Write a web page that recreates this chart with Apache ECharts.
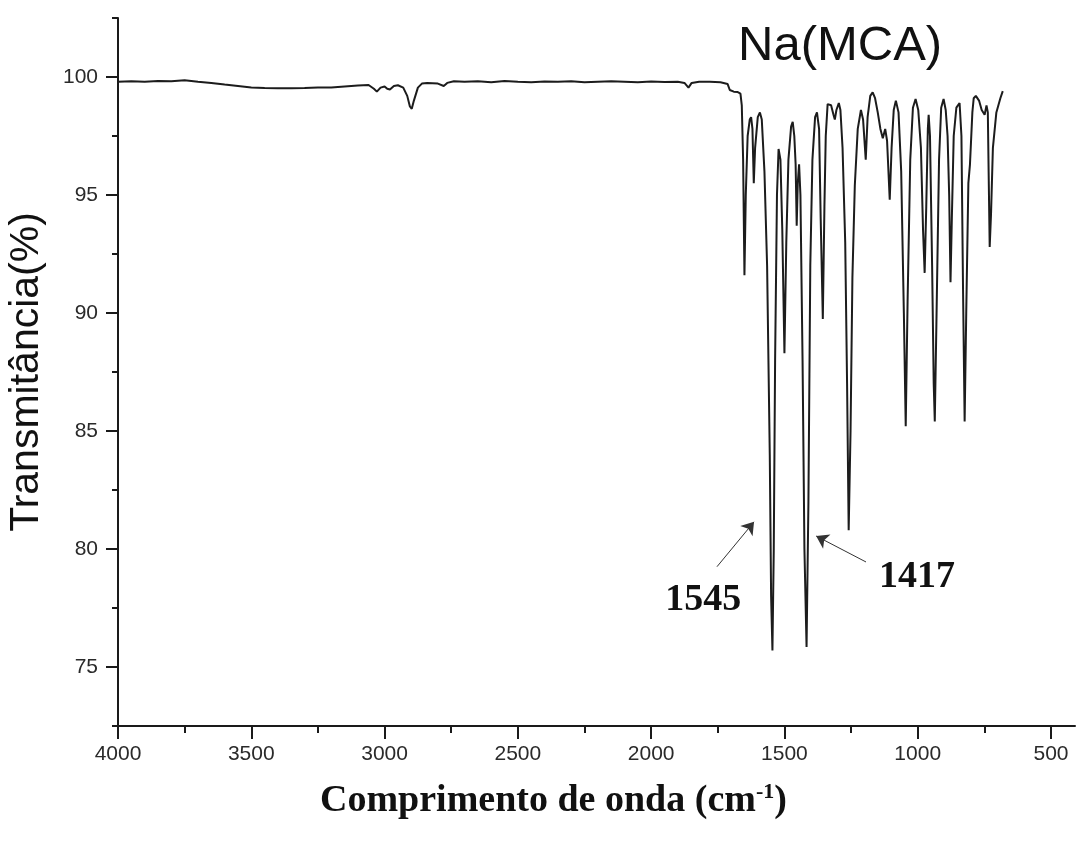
<!DOCTYPE html>
<html>
<head>
<meta charset="utf-8">
<script src="https://cdn.jsdelivr.net/npm/echarts@6/dist/echarts.min.js"></script>
<style>
  html, body { margin: 0; padding: 0; background: #fff; }
  #chart { width: 1078px; height: 843px; }
</style>
</head>
<body>
<div id="chart"></div>
<script>
// ---- Data ----
const wavenumbers = [
  4000, 3950, 3900, 3850, 3800, 3750, 3700, 3650, 3600, 3550, 3500, 3450, 3400, 3350, 3300, 3250, 3200, 3150, 3100, 3060,
  3040, 3029, 3015, 3000, 2990, 2980, 2965, 2950, 2930, 2915, 2905, 2898, 2890, 2875, 2860, 2840, 2800, 2778, 2765, 2740,
  2700, 2650, 2600, 2550, 2500, 2450, 2400, 2350, 2300, 2250, 2200, 2150, 2100, 2050, 2000, 1950, 1900, 1875, 1860, 1848,
  1820, 1780, 1740, 1713, 1705, 1690, 1675, 1665, 1660, 1655, 1650, 1645, 1638, 1630, 1625, 1620, 1615, 1610, 1600, 1592,
  1585, 1575, 1565, 1555, 1550, 1545, 1540, 1535, 1528, 1522, 1515, 1508, 1500, 1493, 1485, 1475, 1469, 1463, 1458, 1454,
  1450, 1445, 1440, 1432, 1425, 1417, 1410, 1403, 1395, 1385, 1378, 1370, 1364, 1356, 1350, 1345, 1338, 1325, 1316, 1311,
  1305, 1296, 1290, 1282, 1272, 1265, 1259, 1252, 1245, 1236, 1225, 1213, 1205, 1195, 1188, 1178, 1169, 1160, 1150, 1140,
  1131, 1122, 1115, 1105, 1098, 1090, 1082, 1072, 1062, 1052, 1045, 1038, 1028, 1018, 1008, 998, 988, 980, 974, 968,
  962, 959, 954, 946, 940, 936, 930, 920, 912, 903, 895, 888, 882, 877, 872, 865, 855, 843, 836, 830,
  824, 818, 810, 804, 795, 790, 782, 770, 760, 749, 742, 737, 734, 730, 725, 718, 705, 690, 681
];
const transmittance = [
  99.80, 99.82, 99.80, 99.83, 99.82, 99.86, 99.80, 99.75, 99.68, 99.62, 99.56, 99.53, 99.52, 99.52, 99.53, 99.55, 99.56, 99.60, 99.64, 99.66,
  99.50, 99.38, 99.55, 99.60, 99.50, 99.47, 99.62, 99.65, 99.55, 99.20, 98.75, 98.65, 99.00, 99.55, 99.72, 99.75, 99.72, 99.62, 99.75, 99.82,
  99.80, 99.82, 99.78, 99.83, 99.80, 99.78, 99.81, 99.80, 99.82, 99.78, 99.80, 99.82, 99.80, 99.78, 99.81, 99.79, 99.80, 99.75, 99.55, 99.75,
  99.80, 99.80, 99.78, 99.70, 99.45, 99.38, 99.36, 99.30, 98.80, 96.50, 91.60, 95.00, 97.50, 98.20, 98.30, 97.80, 95.50, 97.00, 98.30, 98.50,
  98.20, 96.00, 92.00, 84.00, 78.00, 75.70, 80.00, 88.00, 95.00, 96.95, 96.50, 93.50, 88.30, 93.00, 96.50, 97.90, 98.10, 97.50, 96.30, 93.70,
  95.50, 96.30, 95.00, 88.00, 80.00, 75.85, 82.00, 92.00, 96.50, 98.30, 98.50, 97.80, 94.00, 89.75, 94.50, 97.50, 98.85, 98.80, 98.40, 98.20,
  98.60, 98.90, 98.60, 97.00, 93.00, 87.00, 80.80, 85.00, 91.50, 95.40, 97.80, 98.60, 98.20, 96.50, 98.30, 99.20, 99.35, 99.10, 98.50, 97.80,
  97.40, 97.80, 97.30, 94.80, 97.00, 98.60, 99.00, 98.50, 96.00, 90.00, 85.20, 90.50, 96.50, 98.70, 99.07, 98.60, 97.00, 93.50, 91.70, 94.50,
  97.80, 98.40, 97.50, 92.00, 87.00, 85.40, 89.50, 96.50, 98.70, 99.07, 98.60, 97.50, 95.00, 91.30, 94.00, 97.50, 98.70, 98.90, 97.50, 91.00,
  85.40, 90.00, 95.50, 96.30, 98.50, 99.10, 99.20, 99.00, 98.60, 98.40, 98.80, 98.50, 96.00, 92.80, 94.20, 97.00, 98.50, 99.10, 99.40
];

const xMajorTicks = [4000, 3500, 3000, 2500, 2000, 1500, 1000, 500];
const xMinorTicks = [3750, 3250, 2750, 2250, 1750, 1250, 750];
const yMajorTicks = [75, 80, 85, 90, 95, 100];

const peakLabels = ['1545', '1417'];
const peakLabelPos = [[1805, 77.85], [1003, 78.8]];
const arrowFrom = [[1753, 79.25], [1194, 79.45]];
const arrowTo = [[1614, 81.15], [1381, 80.55]];

const titleText = 'Na(MCA)';
const xTitle = 'Comprimento de onda (cm';
const yTitle = 'Transmitância(%)';

// ---- Build ----
const points = wavenumbers.map((w, i) => [w, transmittance[i]]);
const xMin = 410, xMax = 4000, yMin = 72.5, yMax = 102.5;

const axisLineStyle = { color: '#1a1a1a', width: 2 };
const tickFont = { fontFamily: 'Liberation Sans, Arial, sans-serif', fontSize: 21, color: '#2a2a2a' };
const plain = v => String(v);

const chart = echarts.init(document.getElementById('chart'), null, { renderer: 'canvas' });

chart.setOption({
  backgroundColor: '#ffffff',
  animation: false,
  title: [
    {
      text: titleText,
      left: 733, top: 17,
      textStyle: { fontFamily: 'Liberation Sans, Arial, sans-serif', fontSize: 49, fontWeight: 'normal', color: '#111' }
    },
    {
      text: '{a|' + xTitle + '}{s|-1}{a|)}',
      left: 315, top: 776,
      textStyle: {
        rich: {
          a: { fontFamily: 'Liberation Serif, Times New Roman, serif', fontSize: 38, fontWeight: 'bold', color: '#111' },
          s: { fontFamily: 'Liberation Serif, Times New Roman, serif', fontSize: 22, fontWeight: 'bold', color: '#111', verticalAlign: 'top', padding: [0, 0, 18, 0] }
        }
      }
    }
  ],
  grid: { left: 118, right: 3, top: 18, bottom: 117, containLabel: false, outerBoundsMode: 'none' },
  xAxis: [
    {
      type: 'value', inverse: true, min: xMin, max: xMax, position: 'bottom',
      axisLine: { show: true, lineStyle: axisLineStyle },
      axisTick: { show: true, length: 13, lineStyle: axisLineStyle, customValues: xMajorTicks },
      axisLabel: Object.assign({ margin: 18, customValues: xMajorTicks, formatter: plain }, tickFont),
      splitLine: { show: false }
    },
    {
      type: 'value', inverse: true, min: xMin, max: xMax, position: 'bottom', offset: 0,
      axisLine: { show: false },
      axisTick: { show: true, length: 7, lineStyle: axisLineStyle, customValues: xMinorTicks },
      axisLabel: { show: false },
      splitLine: { show: false }
    }
  ],
  yAxis: [
    {
      type: 'value', min: yMin, max: yMax, position: 'left',
      name: yTitle, nameLocation: 'middle', nameRotate: 90, nameGap: 71,
      nameTextStyle: { fontFamily: 'Liberation Sans, Arial, sans-serif', fontSize: 41, color: '#111' },
      axisLine: { show: true, lineStyle: axisLineStyle },
      axisTick: { show: true, length: 12, lineStyle: axisLineStyle, customValues: yMajorTicks },
      axisLabel: Object.assign({ margin: 20, customValues: yMajorTicks, formatter: plain }, tickFont),
      splitLine: { show: false }
    },
    {
      type: 'value', min: yMin, max: yMax, interval: 5, position: 'left', offset: 0,
      axisLine: { show: false },
      axisTick: { show: true, length: 6, lineStyle: axisLineStyle },
      axisLabel: { show: false },
      splitLine: { show: false }
    }
  ],
  series: [
    {
      type: 'line',
      data: points,
      xAxisIndex: 0, yAxisIndex: 0,
      showSymbol: false,
      smooth: false,
      lineStyle: { color: '#1c1c1c', width: 2 },
      markLine: {
        silent: true,
        symbol: ['none', 'arrow'],
        symbolSize: 12,
        lineStyle: { color: '#333', width: 1, type: 'solid' },
        label: { show: false },
        data: arrowFrom.map((p, i) => [{ coord: p }, { coord: arrowTo[i] }])
      },
      markPoint: {
        silent: true,
        symbol: 'circle', symbolSize: 0,
        label: {
          show: true, position: 'inside',
          fontFamily: 'Liberation Serif, Times New Roman, serif', fontSize: 38, fontWeight: 'bold', color: '#111',
          formatter: p => p.name
        },
        data: peakLabels.map((t, i) => ({ name: t, coord: peakLabelPos[i] }))
      }
    }
  ]
});
</script>
</body>
</html>
